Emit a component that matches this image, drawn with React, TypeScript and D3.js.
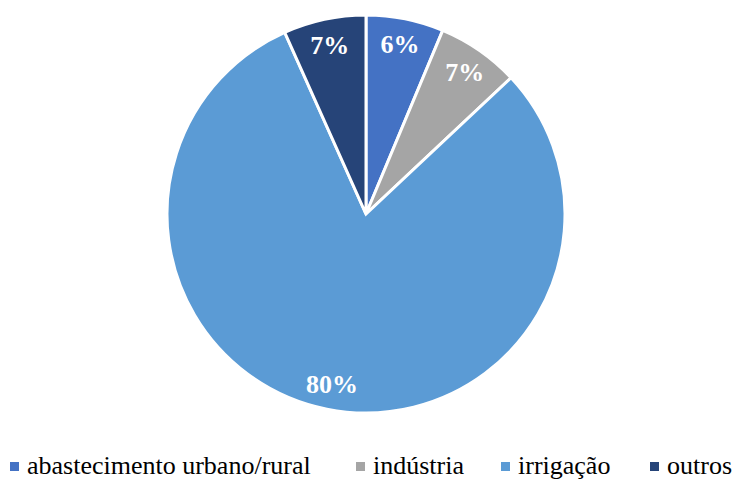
import React from "react";
import * as d3 from "d3";

const categories = ["abastecimento urbano/rural", "indústria", "irrigação", "outros"];
const shares = [6.3, 6.7, 80.3, 6.7];
const colors = ["#4472C4", "#A5A5A5", "#5B9BD5", "#264478"];
const legendX = [10, 356, 501, 650];

const width = 733;
const height = 480;
const cx = 366;
const cy = 214;
const radius = 199;

const App = () => {
  const pie = d3.pie<number>().sort(null).value((d) => d);
  const arcs = pie(shares);
  const arc = d3.arc<d3.PieArcDatum<number>>().innerRadius(0).outerRadius(radius);
  const labelArc = d3
    .arc<d3.PieArcDatum<number>>()
    .innerRadius(radius * 0.87)
    .outerRadius(radius * 0.87);
  const font = '"Liberation Serif", "Times New Roman", Times, serif';

  return (
    <svg
      width={width}
      height={height}
      fontFamily={font}
      style={{ position: "absolute", left: 0, top: 0, background: "#fff" }}
    >
      <g transform={`translate(${cx},${cy})`}>
        {arcs.map((d, i) => (
          <path key={i} d={arc(d) || ""} fill={colors[i]} stroke="#fff" strokeWidth={3} />
        ))}
        {arcs.map((d, i) => {
          const [x, y] = labelArc.centroid(d);
          return (
            <text
              key={i}
              x={x}
              y={y + 9}
              textAnchor="middle"
              fill="#fff"
              fontFamily={font}
              fontWeight="bold"
              fontSize={26}
            >
              {Math.round(d.data)}%
            </text>
          );
        })}
      </g>
      <g>
        {categories.map((c, i) => (
          <g key={c} transform={`translate(${legendX[i]},0)`}>
            <rect x={0} y={462} width={9} height={9} fill={colors[i]} />
            <text x={17} y={474} fill="#000" fontFamily={font} fontSize={26}>
              {c}
            </text>
          </g>
        ))}
      </g>
    </svg>
  );
};

export default App;
